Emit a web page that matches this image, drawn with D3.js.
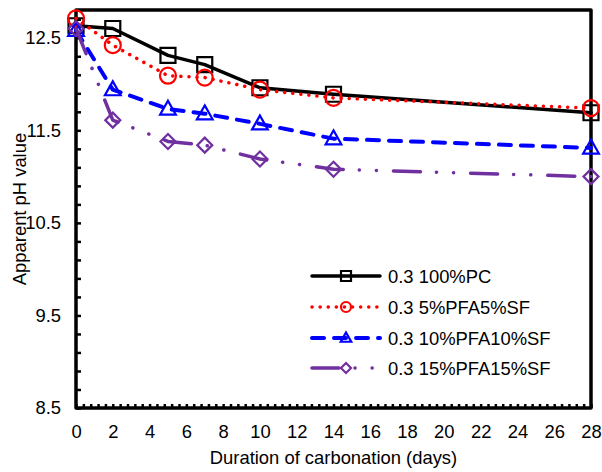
<!DOCTYPE html>
<html>
<head>
<meta charset="utf-8">
<script src="https://cdn.jsdelivr.net/npm/d3@7"></script>
<style>
  body { margin: 0; background: #fff; }
  svg { display: block; font-family: "Liberation Sans", Arial, sans-serif; }
  .tick text { font-size: 18.4px; fill: #000; }
</style>
</head>
<body>
<svg id="chart" width="602" height="472"></svg>
<script>
// duration of carbonation (days)
var days = [0, 2, 5, 7, 10, 14, 28];

// apparent pH values per mix
var pc100 = [12.63, 12.60, 12.31, 12.21, 11.96, 11.89, 11.69];
var pfa5sf5 = [12.71, 12.42, 12.09, 12.07, 11.94, 11.85, 11.74];
var pfa10sf10 = [12.58, 11.94, 11.73, 11.68, 11.57, 11.41, 11.31];
var pfa15sf15 = [12.60, 11.61, 11.38, 11.34, 11.19, 11.08, 11.00];

var seriesNames = ['0.3 100%PC', '0.3 5%PFA5%SF', '0.3 10%PFA10%SF', '0.3 15%PFA15%SF'];

var xTicks = d3.range(0, 29, 2);
var yLabels = [8.5, 9.5, 10.5, 11.5, 12.5];

var svg = d3.select('#chart');

var x = d3.scaleLinear().domain([0, 28]).range([76, 591]);
var y = d3.scaleLinear().domain([8.5, 12.8]).range([408, 10]);

var series = [
  {name: seriesNames[0], values: pc100, color: '#000000', dash: null, width: 3.5, marker: 'square'},
  {name: seriesNames[1], values: pfa5sf5, color: '#FF0000', dash: '0.1,8', width: 3.5, marker: 'circle'},
  {name: seriesNames[2], values: pfa10sf10, color: '#0000FF', dash: '12,10', width: 4, marker: 'triangle'},
  {name: seriesNames[3], values: pfa15sf15, color: '#7030A0', dash: '27,16,0.1,17,0.1,17', width: 3.5, marker: 'diamond'}
];

function markerPath(type, s) {
  // s = half size
  if (type === 'square') return 'M' + (-s) + ',' + (-s) + 'h' + (2 * s) + 'v' + (2 * s) + 'h' + (-2 * s) + 'Z';
  if (type === 'triangle') return 'M0,' + (-s * 1.1) + 'L' + (s * 1.05) + ',' + (s * 0.75) + 'L' + (-s * 1.05) + ',' + (s * 0.75) + 'Z';
  if (type === 'diamond') return 'M0,' + (-s) + 'L' + s + ',0L0,' + s + 'L' + (-s) + ',0Z';
  return null;
}

function drawMarker(g, type, cx, cy, s, color, sw) {
  if (type === 'circle') {
    g.append('circle').attr('cx', cx).attr('cy', cy).attr('r', s)
      .attr('fill', 'none').attr('stroke', color).attr('stroke-width', sw);
  } else {
    g.append('path').attr('d', markerPath(type, s))
      .attr('transform', 'translate(' + cx + ',' + cy + ')')
      .attr('fill', 'none').attr('stroke', color).attr('stroke-width', sw)
      .attr('stroke-linejoin', 'miter');
  }
}

// y axis, ticks inward every 0.2
var yTickVals = d3.range(0, 22).map(function (i) { return +(8.5 + i * 0.2).toFixed(1); });
svg.append('g')
  .attr('transform', 'translate(76,0)')
  .call(d3.axisLeft(y).tickValues(yTickVals).tickSizeInner(-5).tickSizeOuter(0).tickPadding(15)
    .tickFormat(function (d) { return yLabels.indexOf(d) >= 0 ? d3.format('.1f')(d) : ''; }))
  .call(function (g) { g.select('.domain').remove(); })
  .call(function (g) { g.selectAll('.tick line').attr('stroke', '#000').attr('stroke-width', 2.5); });

// x axis, minor ticks inward
var xMinor = d3.range(0, 71).map(function (i) { return +(i * 0.4).toFixed(1); });
svg.append('g')
  .attr('transform', 'translate(0,408)')
  .call(d3.axisBottom(x).tickValues(xMinor).tickSizeInner(-4).tickSizeOuter(0).tickFormat(''))
  .call(function (g) { g.select('.domain').remove(); })
  .call(function (g) { g.selectAll('.tick line').attr('stroke', '#000').attr('stroke-width', 2.5); });

svg.append('g')
  .attr('transform', 'translate(0,408)')
  .call(d3.axisBottom(x).tickValues(xTicks).tickSize(0).tickPadding(17).tickFormat(d3.format('d')))
  .call(function (g) { g.select('.domain').remove(); });

// plot frame
svg.append('rect')
  .attr('x', x(0)).attr('y', y(12.8))
  .attr('width', x(28) - x(0)).attr('height', y(8.5) - y(12.8))
  .attr('fill', 'none').attr('stroke', '#000').attr('stroke-width', 3.5)
  .attr('stroke-linejoin', 'round');

// axis titles
svg.append('text')
  .attr('x', (x(0) + x(28)) / 2 - 0).attr('y', 464)
  .attr('text-anchor', 'middle').attr('font-size', '18.4px')
  .text('Duration of carbonation (days)');

svg.append('text')
  .attr('transform', 'translate(26,' + ((y(8.5) + y(12.8)) / 2) + ') rotate(-90)')
  .attr('text-anchor', 'middle').attr('font-size', '18.4px')
  .text('Apparent pH value');

// series
var line = d3.line()
  .x(function (d, i) { return x(days[i]); })
  .y(function (d) { return y(d); });

series.forEach(function (s) {
  var g = svg.append('g');
  g.append('path')
    .attr('d', line(s.values))
    .attr('fill', 'none')
    .attr('stroke', s.color)
    .attr('stroke-width', s.width)
    .attr('stroke-linecap', 'round')
    .attr('stroke-linejoin', 'round')
    .attr('stroke-dasharray', s.dash);
  s.values.forEach(function (v, i) {
    drawMarker(g, s.marker, x(days[i]), y(v), s.marker === 'circle' ? 8 : 7.5, s.color, 2.2);
  });
});

// legend
var legendRows = [276, 307, 338, 368];
var legend = svg.append('g');
series.forEach(function (s, i) {
  var ly = legendRows[i];
  legend.append('line')
    .attr('x1', 312).attr('x2', 380).attr('y1', ly).attr('y2', ly)
    .attr('stroke', s.color).attr('stroke-width', s.width)
    .attr('stroke-linecap', 'round')
    .attr('stroke-dasharray', s.dash);
  drawMarker(legend, s.marker, 346, ly, 5, s.color, 2.2);
  legend.append('text')
    .attr('x', 388).attr('y', ly).attr('dy', '0.36em')
    .attr('font-size', '18.4px')
    .text(s.name);
});
</script>
</body>
</html>
